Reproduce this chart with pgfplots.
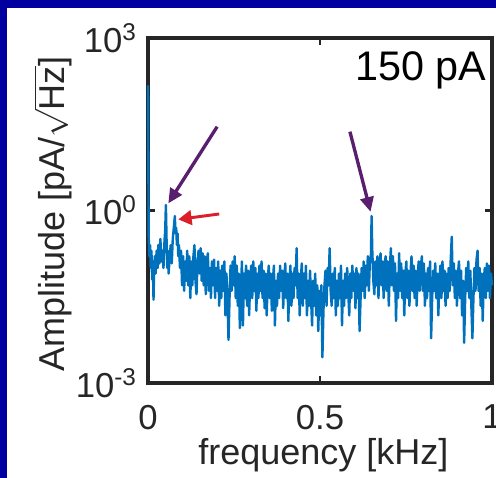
\documentclass[border=0pt]{standalone}
\usepackage{pgfplots}
\pgfplotsset{compat=1.18}
\usepackage{fontspec}
\setmainfont{Liberation Sans}
\usetikzlibrary{arrows.meta}
\definecolor{mblue}{RGB}{0,114,189}
\definecolor{slide}{RGB}{0,0,160}
\definecolor{axgray}{RGB}{38,38,38}
\definecolor{apurple}{RGB}{90,30,110}
\definecolor{ared}{RGB}{220,30,40}
\begin{document}
\begin{tikzpicture}
\fill[white] (-10pt,-10pt) rectangle (390pt,370pt);
\fill[slide] (-10pt,352.5pt) rectangle (390pt,370pt);
\fill[slide] (-10pt,-10pt) rectangle (5.25pt,370pt);
\begin{axis}[
  at={(111pt,71.25pt)}, anchor=south west,
  scale only axis, width=258pt, height=258.75pt,
  ymode=log, xmin=0, xmax=1, ymin=1e-3, ymax=1e3,
  xtick={0,0.5,1}, xticklabels={0,0.5,1},
  ytick={1e-3,1,1e3},
  yticklabels={10\textsuperscript{-3},10\textsuperscript{0},10\textsuperscript{3}},
  yminorticks=false,
  tick align=inside, major tick length=5pt,
  every tick/.style={axgray, line width=2pt},
  axis line style={axgray, line width=3pt},
  ticklabel style={font=\fontsize{26}{30}\selectfont, text=axgray},
  xticklabel style={yshift=-13pt},
  yticklabel style={xshift=-5pt},
  label style={font=\fontsize{27}{32}\selectfont, text=axgray},
  xlabel={frequency [kHz]},
  ylabel={Amplitude [pA/$\sqrt{\mbox{Hz}}$]},
  xlabel style={at={(axis description cs:0.51,-0.209)}, anchor=center},
  ylabel style={at={(axis description cs:-0.276,0.49)}, anchor=center},
  clip=false,
]
\addplot[mblue, line width=1.8pt, line join=round] coordinates {
(0,150) (0.002,0.35) (0.004,0.16) (0.006,0.25) (0.008,0.10) (0.010,0.20) (0.012,0.063) (0.014,0.13) (0.016,0.028) (0.018,0.10)
(0.020,0.16) (0.022,0.08) (0.025,0.20) (0.028,0.10) (0.030,0.25) (0.033,0.12) (0.036,0.32) (0.039,0.13) (0.042,0.20) (0.045,0.10)
(0.048,0.30) (0.050,0.45) (0.052,1.25) (0.054,0.30) (0.056,0.10) (0.058,0.20) (0.060,0.08) (0.063,0.16) (0.066,0.25) (0.069,0.12)
(0.072,0.32) (0.075,0.50) (0.078,0.80) (0.080,0.40) (0.082,0.50) (0.084,0.25) (0.086,0.40) (0.088,0.16) (0.090,0.25) (0.093,0.10)
(0.096,0.20) (0.099,0.05) (0.102,0.16) (0.105,0.04) (0.108,0.13) (0.111,0.06) (0.114,0.20) (0.117,0.05) (0.120,0.16) (0.123,0.03)
(0.126,0.13) (0.129,0.05) (0.132,0.16) (0.135,0.25) (0.138,0.06) (0.141,0.035) (0.144,0.13) (0.147,0.20) (0.150,0.08) (0.153,0.22)
(0.156,0.06) (0.159,0.18) (0.162,0.05) (0.165,0.16) (0.168,0.035) (0.171,0.13) (0.174,0.18) (0.177,0.04) (0.180,0.10) (0.183,0.03)
(0.186,0.13) (0.189,0.05) (0.192,0.14) (0.195,0.03) (0.198,0.10) (0.201,0.04) (0.204,0.13) (0.207,0.022) (0.210,0.09) (0.213,0.03)
(0.216,0.11) (0.219,0.04) (0.222,0.13) (0.225,0.015) (0.228,0.08) (0.231,0.03) (0.234,0.0056) (0.237,0.03) (0.240,0.11) (0.243,0.04)
(0.246,0.13) (0.249,0.05) (0.252,0.16) (0.255,0.03) (0.258,0.11) (0.261,0.022) (0.264,0.08) (0.267,0.009) (0.270,0.04) (0.273,0.13)
(0.276,0.01) (0.279,0.08) (0.282,0.03) (0.285,0.11) (0.288,0.022) (0.291,0.09) (0.294,0.015) (0.297,0.06) (0.300,0.11) (0.303,0.03)
(0.306,0.13) (0.309,0.04) (0.312,0.10) (0.315,0.018) (0.318,0.08) (0.321,0.03) (0.324,0.11) (0.327,0.04) (0.330,0.13) (0.333,0.03)
(0.336,0.09) (0.339,0.02) (0.342,0.08) (0.345,0.015) (0.348,0.06) (0.351,0.11) (0.354,0.03) (0.357,0.08) (0.360,0.018) (0.363,0.06)
(0.366,0.11) (0.369,0.01) (0.372,0.06) (0.375,0.022) (0.378,0.08) (0.381,0.03) (0.384,0.11) (0.387,0.04) (0.390,0.09) (0.393,0.02)
(0.396,0.06) (0.399,0.12) (0.402,0.03) (0.405,0.08) (0.408,0.012) (0.411,0.06) (0.414,0.11) (0.417,0.022) (0.420,0.08) (0.423,0.03)
(0.426,0.10) (0.429,0.05) (0.432,0.22) (0.435,0.03) (0.438,0.08) (0.441,0.015) (0.444,0.06) (0.447,0.12) (0.450,0.022) (0.453,0.08)
(0.456,0.03) (0.459,0.11) (0.462,0.015) (0.465,0.06) (0.468,0.022) (0.471,0.09) (0.474,0.03) (0.477,0.01) (0.480,0.06) (0.483,0.022)
(0.486,0.08) (0.489,0.015) (0.492,0.05) (0.495,0.008) (0.498,0.04) (0.501,0.015) (0.504,0.05) (0.507,0.0028) (0.510,0.018) (0.513,0.05)
(0.516,0.09) (0.519,0.022) (0.522,0.10) (0.525,0.05) (0.528,0.22) (0.531,0.04) (0.534,0.022) (0.537,0.08) (0.540,0.03) (0.543,0.10)
(0.546,0.015) (0.549,0.06) (0.552,0.022) (0.555,0.08) (0.558,0.03) (0.561,0.11) (0.564,0.01) (0.567,0.06) (0.570,0.022) (0.573,0.08)
(0.576,0.03) (0.579,0.10) (0.582,0.04) (0.585,0.015) (0.588,0.08) (0.591,0.03) (0.594,0.11) (0.597,0.04) (0.600,0.08) (0.603,0.02)
(0.606,0.10) (0.609,0.03) (0.612,0.08) (0.615,0.008) (0.618,0.03) (0.621,0.10) (0.624,0.04) (0.627,0.13) (0.630,0.03) (0.633,0.11)
(0.636,0.05) (0.639,0.16) (0.642,0.04) (0.645,0.13) (0.648,0.16) (0.650,0.80) (0.652,0.20) (0.655,0.06) (0.658,0.035) (0.661,0.13)
(0.664,0.05) (0.667,0.16) (0.670,0.03) (0.673,0.11) (0.676,0.18) (0.679,0.05) (0.682,0.13) (0.685,0.03) (0.688,0.12) (0.691,0.16)
(0.694,0.04) (0.697,0.13) (0.700,0.022) (0.703,0.10) (0.706,0.22) (0.709,0.05) (0.712,0.16) (0.715,0.04) (0.718,0.12) (0.721,0.012)
(0.724,0.08) (0.727,0.03) (0.730,0.18) (0.733,0.04) (0.736,0.12) (0.739,0.03) (0.742,0.09) (0.745,0.015) (0.748,0.08) (0.751,0.13)
(0.754,0.03) (0.757,0.09) (0.760,0.022) (0.763,0.08) (0.766,0.16) (0.769,0.04) (0.772,0.11) (0.775,0.03) (0.778,0.09) (0.781,0.022)
(0.784,0.08) (0.787,0.13) (0.790,0.04) (0.793,0.10) (0.796,0.16) (0.799,0.04) (0.802,0.12) (0.805,0.022) (0.808,0.08) (0.811,0.03)
(0.814,0.10) (0.817,0.04) (0.820,0.13) (0.823,0.006) (0.826,0.03) (0.829,0.09) (0.832,0.04) (0.835,0.12) (0.838,0.03) (0.841,0.08)
(0.844,0.015) (0.847,0.06) (0.850,0.11) (0.853,0.03) (0.856,0.13) (0.859,0.04) (0.862,0.09) (0.865,0.022) (0.868,0.08) (0.871,0.03)
(0.874,0.10) (0.877,0.04) (0.880,0.14) (0.883,0.35) (0.886,0.05) (0.889,0.12) (0.892,0.03) (0.895,0.09) (0.898,0.022) (0.901,0.08)
(0.904,0.13) (0.907,0.03) (0.910,0.09) (0.913,0.015) (0.916,0.06) (0.919,0.005) (0.922,0.03) (0.925,0.10) (0.928,0.04) (0.931,0.13)
(0.934,0.03) (0.937,0.09) (0.940,0.022) (0.943,0.006) (0.946,0.03) (0.949,0.10) (0.952,0.04) (0.955,0.14) (0.958,0.20) (0.961,0.04)
(0.964,0.10) (0.967,0.022) (0.970,0.08) (0.973,0.012) (0.976,0.06) (0.979,0.10) (0.982,0.03) (0.985,0.12) (0.988,0.04) (0.991,0.11)
(0.994,0.03) (0.997,0.08) (1.000,0.05)
};
\node[anchor=base east, font=\fontsize{31}{36}\selectfont, inner sep=0pt] at (rel axis cs:0.985,0.878) {150 pA};
\draw[apurple, line width=2.5pt, -{Triangle[length=11pt,width=10pt]}] (axis cs:0.201,28.7) -- (axis cs:0.059,1.33);
\draw[apurple, line width=2.5pt, -{Triangle[length=11pt,width=10pt]}] (axis cs:0.587,23.5) -- (axis cs:0.647,0.95);
\draw[ared, line width=2.2pt, -{Triangle[length=10pt,width=11pt]}] (axis cs:0.207,0.87) -- (axis cs:0.088,0.70);
\end{axis}
\pgfresetboundingbox
\path[use as bounding box] (0,0) rectangle (372pt,358.5pt);
\end{tikzpicture}
\end{document}
